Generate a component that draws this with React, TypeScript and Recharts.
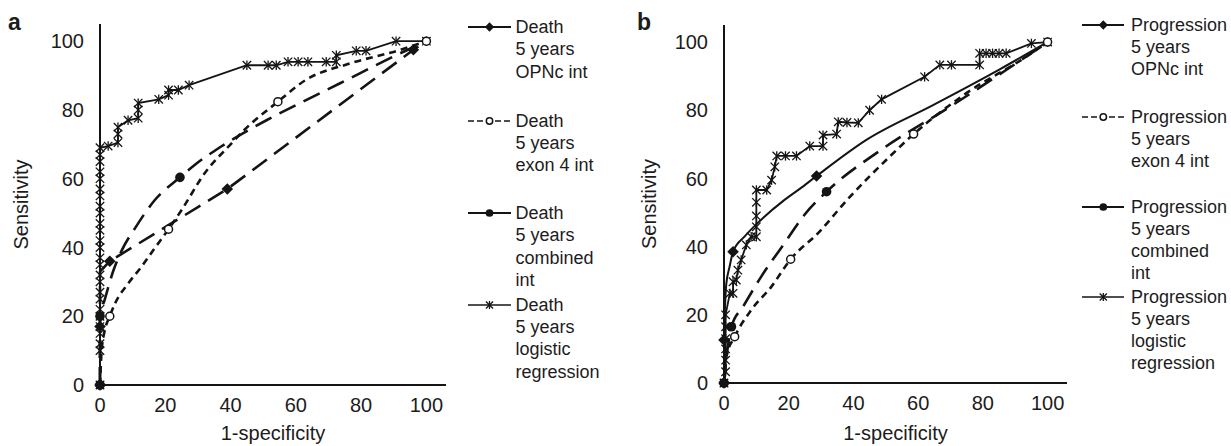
import React from 'react';
import { ComposedChart, Line, Scatter, XAxis, YAxis, ReferenceLine } from 'recharts';

type P = { x: number; y: number };

// ---------- shared axis / text content ----------
const xTicks = [0, 20, 40, 60, 80, 100];
const yTicks = [0, 20, 40, 60, 80, 100];
const xAxisTitle = '1-specificity';
const yAxisTitle = 'Sensitivity';
const panelLetters = ['a', 'b'];
const xDomain: [number, number] = [0, 106];
const yDomain: [number, number] = [0, 105];

const legendA = [
  ['Death', '5 years', 'OPNc int'],
  ['Death', '5 years', 'exon 4 int'],
  ['Death', '5 years', 'combined', 'int'],
  ['Death', '5 years', 'logistic', 'regression'],
];
const legendB = [
  ['Progression', '5 years', 'OPNc int'],
  ['Progression', '5 years', 'exon 4 int'],
  ['Progression', '5 years', 'combined', 'int'],
  ['Progression', '5 years', 'logistic', 'regression'],
];

// ---------- panel a : Death ----------
const deathOpncCurve: P[] = [
  { x: 0, y: 0 }, { x: 0, y: 17 }, { x: 0, y: 33 }, { x: 3, y: 36 },
  { x: 39, y: 57 }, { x: 96, y: 97.5 }, { x: 100, y: 100 },
];
const deathOpncMarks: P[] = [
  { x: 0, y: 0 }, { x: 0, y: 17 }, { x: 3, y: 36 }, { x: 39, y: 57 }, { x: 96, y: 97.5 },
];
const deathExonCurve: P[] = [
  { x: 0, y: 0 }, { x: 0.5, y: 10 }, { x: 1.5, y: 16 }, { x: 3, y: 20 }, { x: 4.6, y: 23.7 },
  { x: 8.7, y: 29.6 }, { x: 12.7, y: 34.4 }, { x: 16.3, y: 39.2 }, { x: 21, y: 45.3 },
  { x: 25, y: 50.9 }, { x: 32, y: 61.5 }, { x: 40, y: 70 }, { x: 44, y: 74 },
  { x: 54.5, y: 82.4 }, { x: 63, y: 88.7 }, { x: 76.5, y: 93.5 }, { x: 91.7, y: 97.4 },
  { x: 100, y: 100 },
];
const deathExonMarks: P[] = [
  { x: 0, y: 0 }, { x: 3, y: 20 }, { x: 21, y: 45.3 }, { x: 54.5, y: 82.4 }, { x: 100, y: 100 },
];
const deathCombinedCurve: P[] = [
  { x: 0, y: 0 }, { x: 0, y: 20 }, { x: 1.5, y: 25 }, { x: 4, y: 33 }, { x: 6.6, y: 39 },
  { x: 11, y: 46 }, { x: 16.8, y: 53.8 }, { x: 24.5, y: 60.4 }, { x: 29, y: 64 },
  { x: 37, y: 69.3 }, { x: 51, y: 77 }, { x: 61.3, y: 82 }, { x: 73.4, y: 87.7 },
  { x: 90.7, y: 95.9 }, { x: 100, y: 100 },
];
const deathCombinedMarks: P[] = [
  { x: 0, y: 0 }, { x: 0, y: 20 }, { x: 24.5, y: 60.4 },
];
const deathLogistic: P[] = [
  { x: 0, y: 0 }, { x: 0, y: 10 }, { x: 0, y: 12 }, { x: 0, y: 15 }, { x: 0, y: 17 },
  { x: 0, y: 20 }, { x: 0, y: 22 }, { x: 0, y: 25 }, { x: 0, y: 27 }, { x: 0, y: 30 },
  { x: 0, y: 32 }, { x: 0, y: 35 }, { x: 0, y: 37 }, { x: 0, y: 40 }, { x: 0, y: 42 },
  { x: 0, y: 45 }, { x: 0, y: 47 }, { x: 0, y: 50 }, { x: 0, y: 52 }, { x: 0, y: 55 },
  { x: 0, y: 57 }, { x: 0, y: 60 }, { x: 0, y: 62 }, { x: 0, y: 65 }, { x: 0, y: 67 },
  { x: 0, y: 69 }, { x: 2.5, y: 69.5 }, { x: 5.5, y: 70.5 }, { x: 5.5, y: 73 },
  { x: 5.5, y: 75 }, { x: 8.6, y: 77 }, { x: 11.7, y: 77.6 }, { x: 11.7, y: 80 },
  { x: 11.7, y: 82 }, { x: 18, y: 83.1 }, { x: 21, y: 84.3 }, { x: 21, y: 85.8 },
  { x: 24, y: 85.8 }, { x: 27.3, y: 87.2 }, { x: 45, y: 93 }, { x: 51.5, y: 93 },
  { x: 54, y: 93 }, { x: 57.6, y: 94 }, { x: 60.7, y: 94 }, { x: 63.7, y: 94 },
  { x: 69.3, y: 94 }, { x: 72.4, y: 94 }, { x: 72.4, y: 95.9 }, { x: 78.5, y: 97.2 },
  { x: 81.5, y: 97.2 }, { x: 90.7, y: 100 }, { x: 100, y: 100 },
];

// ---------- panel b : Progression ----------
const progOpncCurve: P[] = [
  { x: 0, y: 0 }, { x: 0, y: 12.6 }, { x: 0.3, y: 22 }, { x: 0.7, y: 29 }, { x: 1.7, y: 34 },
  { x: 2.8, y: 38.5 }, { x: 6.4, y: 43 }, { x: 10.5, y: 47 }, { x: 18.7, y: 53.7 },
  { x: 23.5, y: 57 }, { x: 28.6, y: 60.7 }, { x: 44, y: 71.3 }, { x: 64.6, y: 81.5 },
  { x: 85.2, y: 92 }, { x: 100, y: 100 },
];
const progOpncMarks: P[] = [
  { x: 0, y: 0 }, { x: 0, y: 12.6 }, { x: 2.8, y: 38.5 }, { x: 28.6, y: 60.7 },
];
const progExonCurve: P[] = [
  { x: 0, y: 0 }, { x: 0.8, y: 8 }, { x: 3.3, y: 13.6 }, { x: 8.4, y: 21.4 },
  { x: 14.6, y: 28.2 }, { x: 20.6, y: 36.3 }, { x: 29, y: 43.9 }, { x: 38.9, y: 54.6 },
  { x: 51.2, y: 66.4 }, { x: 58.6, y: 73 }, { x: 74.9, y: 85 }, { x: 93.4, y: 95.7 },
  { x: 100, y: 100 },
];
const progExonMarks: P[] = [
  { x: 0, y: 0 }, { x: 3.3, y: 13.6 }, { x: 20.6, y: 36.3 }, { x: 58.6, y: 73 }, { x: 100, y: 100 },
];
const progCombinedCurve: P[] = [
  { x: 0, y: 0 }, { x: 0.6, y: 6 }, { x: 2.3, y: 16.5 }, { x: 5.9, y: 22.4 },
  { x: 11.5, y: 31.2 }, { x: 18.7, y: 41 }, { x: 25, y: 49.5 }, { x: 31.7, y: 56.1 },
  { x: 49.2, y: 68.8 }, { x: 69.8, y: 81 }, { x: 87.2, y: 91.8 }, { x: 100, y: 100 },
];
const progCombinedMarks: P[] = [
  { x: 0, y: 0 }, { x: 2.3, y: 16.5 }, { x: 31.7, y: 56.1 },
];
const progLogistic: P[] = [
  { x: 0, y: 0 }, { x: 0.5, y: 3.3 }, { x: 0.5, y: 6.7 }, { x: 0.5, y: 10 }, { x: 0.5, y: 13 },
  { x: 0.5, y: 16.5 }, { x: 0.5, y: 20 }, { x: 1.8, y: 26.3 }, { x: 2.8, y: 26.3 },
  { x: 2.8, y: 29.7 }, { x: 3.8, y: 30.2 }, { x: 4.3, y: 33.1 }, { x: 5.3, y: 36.1 },
  { x: 6.9, y: 40.5 }, { x: 8.4, y: 42.9 }, { x: 10, y: 42.9 }, { x: 10, y: 45.8 },
  { x: 10, y: 49 }, { x: 10, y: 53 }, { x: 10, y: 56.6 }, { x: 13.2, y: 56.6 },
  { x: 14.7, y: 59.5 }, { x: 15.7, y: 63.4 }, { x: 16.3, y: 66.6 }, { x: 19, y: 66.6 },
  { x: 22.4, y: 66.6 }, { x: 26.5, y: 69.5 }, { x: 30.6, y: 69.5 }, { x: 30.6, y: 72.7 },
  { x: 34.8, y: 73 }, { x: 35.3, y: 76.6 }, { x: 38, y: 76.4 }, { x: 41.5, y: 76.3 },
  { x: 45, y: 80 }, { x: 48.7, y: 83.2 }, { x: 62, y: 89.8 }, { x: 66.7, y: 93.3 },
  { x: 70.3, y: 93.3 }, { x: 79, y: 93.3 }, { x: 79, y: 96.7 }, { x: 81, y: 96.7 },
  { x: 83, y: 96.7 }, { x: 85, y: 96.7 }, { x: 87.2, y: 96.7 }, { x: 95, y: 99.6 },
  { x: 100, y: 100 },
];

// ---------- styling ----------
const INK = '#141414';
const TXT = '#1c1c1c';
const FONT = '"Liberation Sans", Arial, Helvetica, sans-serif';
const CHART_H = 446;
const Y_AXIS_W = 60;
const AXIS_W = 1.7;

type MarkerKind = 'diamond' | 'dot' | 'open' | 'star';

function Marker({ kind, cx, cy, s = 1 }: { kind: MarkerKind; cx: number; cy: number; s?: number }) {
  if (cx == null || cy == null || isNaN(cx) || isNaN(cy)) return null;
  if (kind === 'diamond') {
    const r = 5.8 * s;
    return <path d={`M${cx},${cy - r}L${cx + r},${cy}L${cx},${cy + r}L${cx - r},${cy}Z`} fill={INK} />;
  }
  if (kind === 'dot') return <circle cx={cx} cy={cy} r={4.8 * s} fill={INK} />;
  if (kind === 'open')
    return <circle cx={cx} cy={cy} r={4 * s} fill="#fff" stroke={INK} strokeWidth={1.5} />;
  const r = 4.2 * s;
  return (
    <g stroke={INK} strokeWidth={1.3}>
      <line x1={cx - r} y1={cy - r} x2={cx + r} y2={cy + r} />
      <line x1={cx - r} y1={cy + r} x2={cx + r} y2={cy - r} />
      <line x1={cx} y1={cy - r - 0.5} x2={cx} y2={cy + r + 0.5} />
    </g>
  );
}

type SeriesCfg = {
  name: string;
  curve: P[];
  marks: P[];
  marker: MarkerKind;
  dash?: string;
  width: number;
  curveType: 'linear' | 'monotone';
};

type PanelCfg = {
  left: number;
  width: number;
  margin: { top: number; right: number; bottom: number; left: number };
  xAxisHeight: number;
  yLabelOffset: number;
  series: SeriesCfg[];
  logistic: P[];
};

const panelA: PanelCfg = {
  left: 0,
  width: 460,
  margin: { top: 24, right: 14, bottom: 0, left: 40 },
  xAxisHeight: 61,
  yLabelOffset: -19.4,
  series: [
    { name: 'exon', curve: deathExonCurve, marks: deathExonMarks, marker: 'open', dash: '7 5', width: 2.6, curveType: 'monotone' },
    { name: 'combined', curve: deathCombinedCurve, marks: deathCombinedMarks, marker: 'dot', dash: '18 9', width: 2.6, curveType: 'monotone' },
    { name: 'opnc', curve: deathOpncCurve, marks: deathOpncMarks, marker: 'diamond', dash: '18 9', width: 2.6, curveType: 'linear' },
  ],
  logistic: deathLogistic,
};

const panelB: PanelCfg = {
  left: 620,
  width: 460,
  margin: { top: 25, right: 13, bottom: 0, left: 44 },
  xAxisHeight: 63,
  yLabelOffset: -15,
  series: [
    { name: 'exon', curve: progExonCurve, marks: progExonMarks, marker: 'open', dash: '7 5', width: 2.6, curveType: 'monotone' },
    { name: 'combined', curve: progCombinedCurve, marks: progCombinedMarks, marker: 'dot', dash: '18 9', width: 2.6, curveType: 'monotone' },
    { name: 'opnc', curve: progOpncCurve, marks: progOpncMarks, marker: 'diamond', width: 2, curveType: 'monotone' },
  ],
  logistic: progLogistic,
};

const tickStyle = { fontSize: 20, fill: TXT, fontFamily: FONT };

function RocPanel({ cfg }: { cfg: PanelCfg }) {
  // frame of the plotting area (same box Recharts uses), for the axis frame lines underneath
  const plotLeft = cfg.margin.left + Y_AXIS_W;
  const plotTop = cfg.margin.top;
  const plotW = cfg.width - cfg.margin.left - Y_AXIS_W - cfg.margin.right;
  const plotH = CHART_H - cfg.margin.top - cfg.margin.bottom - cfg.xAxisHeight;
  return (
    <div style={{ position: 'absolute', left: cfg.left, top: 0 }}>
      <div style={{ position: 'absolute', left: plotLeft, top: plotTop + plotH - AXIS_W / 2, width: plotW, height: AXIS_W, background: INK }} />
      <div style={{ position: 'absolute', left: plotLeft - AXIS_W / 2, top: plotTop, width: AXIS_W, height: plotH, background: INK }} />
      <ComposedChart width={cfg.width} height={CHART_H} margin={cfg.margin}>
        <XAxis
          type="number"
          dataKey="x"
          domain={xDomain}
          ticks={xTicks}
          interval={0}
          tickLine={false}
          stroke={INK}
          axisLine={{ stroke: INK, strokeWidth: AXIS_W }}
          tick={tickStyle}
          tickMargin={7}
          height={cfg.xAxisHeight}
          label={{
            value: xAxisTitle,
            position: 'insideBottom',
            offset: 6,
            style: { fontSize: 20, fill: TXT, fontFamily: FONT },
          }}
        />
        <YAxis
          type="number"
          dataKey="y"
          domain={yDomain}
          ticks={yTicks}
          interval={0}
          tickLine={false}
          stroke={INK}
          axisLine={{ stroke: INK, strokeWidth: AXIS_W }}
          tick={tickStyle}
          tickMargin={10}
          width={Y_AXIS_W}
          label={{
            value: yAxisTitle,
            angle: -90,
            position: 'insideLeft',
            offset: cfg.yLabelOffset,
            style: { textAnchor: 'middle', fontSize: 20, fill: TXT, fontFamily: FONT },
          }}
        />
        <ReferenceLine y={0} stroke={INK} strokeWidth={AXIS_W} ifOverflow="visible" />
        <ReferenceLine x={0} stroke={INK} strokeWidth={AXIS_W} ifOverflow="visible" />
        {cfg.series.map((s) => (
          <Line
            key={`c-${s.name}`}
            data={s.curve}
            dataKey="y"
            type={s.curveType}
            stroke={INK}
            strokeWidth={s.width}
            strokeDasharray={s.dash}
            dot={false}
            activeDot={false}
            isAnimationActive={false}
          />
        ))}
        <Line
          data={cfg.logistic}
          dataKey="y"
          type="linear"
          stroke={INK}
          strokeWidth={1.8}
          activeDot={false}
          dot={(p: any) => <Marker key={`st-${p.index}`} kind="star" cx={p.cx} cy={p.cy} />}
          isAnimationActive={false}
        />
        {cfg.series.map((s) => (
          <Scatter
            key={`m-${s.name}`}
            data={s.marks}
            dataKey="y"
            isAnimationActive={false}
            shape={(p: any) => <Marker kind={s.marker} cx={p.cx} cy={p.cy} />}
          />
        ))}
      </ComposedChart>
    </div>
  );
}

function LegendIcon({ kind, w }: { kind: MarkerKind; w: number }) {
  const c = w / 2;
  const dash = kind === 'open' ? '6 3' : undefined;
  const sw = kind === 'star' ? 1.6 : kind === 'open' ? 1.6 : 2;
  return (
    <svg width={w} height={22} style={{ display: 'block' }}>
      <line x1={0} y1={11} x2={w} y2={11} stroke={INK} strokeWidth={sw} strokeDasharray={dash} />
      <Marker kind={kind} cx={c} cy={11} s={kind === 'star' ? 0.85 : 0.8} />
    </svg>
  );
}

const legendKinds: MarkerKind[] = ['diamond', 'open', 'dot', 'star'];

function LegendBlock({
  labels, iconLeft, iconWidth, textLeft, tops, lineHeight,
}: {
  labels: string[][]; iconLeft: number; iconWidth: number; textLeft: number; tops: number[]; lineHeight: number;
}) {
  return (
    <>
      {labels.map((lines, i) => (
        <div key={i} style={{ position: 'absolute', top: tops[i], left: iconLeft }}>
          <div style={{ position: 'absolute', left: 0, top: 0 }}>
            <LegendIcon kind={legendKinds[i]} w={iconWidth} />
          </div>
          <div
            style={{
              position: 'absolute',
              left: textLeft - iconLeft,
              top: 0,
              fontSize: 18,
              lineHeight: `${lineHeight}px`,
              fontFamily: FONT,
              color: TXT,
              whiteSpace: 'nowrap',
            }}
          >
            {lines.map((l, j) => (
              <div key={j}>{l}</div>
            ))}
          </div>
        </div>
      ))}
    </>
  );
}

export default function App() {
  return (
    <div style={{ position: 'relative', width: 1231, height: 446, background: '#fff' }}>
      <style>{'body{margin:0;background:#fff;}'}</style>
      <RocPanel cfg={panelA} />
      <RocPanel cfg={panelB} />
      <div style={{ position: 'absolute', left: 8, top: 10.5, fontSize: 23, lineHeight: '23px', fontWeight: 700, fontFamily: FONT, color: TXT }}>
        {panelLetters[0]}
      </div>
      <div style={{ position: 'absolute', left: 637, top: 10.5, fontSize: 23, lineHeight: '23px', fontWeight: 700, fontFamily: FONT, color: TXT }}>
        {panelLetters[1]}
      </div>
      <LegendBlock labels={legendA} iconLeft={468} iconWidth={43} textLeft={515.5} tops={[16.2, 109.5, 202.2, 293.8]} lineHeight={22.3} />
      <LegendBlock labels={legendB} iconLeft={1081.7} iconWidth={42.6} textLeft={1131} tops={[14, 105.7, 195.7, 285.7]} lineHeight={22} />
    </div>
  );
}
